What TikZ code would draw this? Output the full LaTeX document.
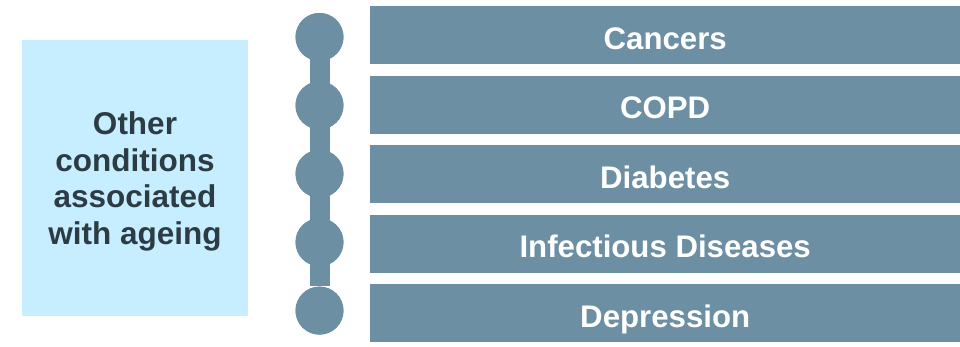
\documentclass[tikz,border=0pt]{standalone}
\usepackage{fontspec}
\setmainfont{Liberation Sans}
\definecolor{barblue}{HTML}{6C8FA3}
\definecolor{lightblue}{HTML}{C6EEFF}
\definecolor{darktext}{HTML}{2D3B45}
\tikzset{
  itembox/.style={rectangle, fill=barblue, draw=none, minimum width=590pt, minimum height=58pt, inner sep=0pt, text=white, font=\bfseries\fontsize{31.2}{36}\selectfont, text height=28.5pt, text depth=0pt, anchor=west},
  dot/.style={circle, fill=barblue, draw=none, minimum size=48pt, inner sep=0pt},
  sidebox/.style={rectangle, fill=lightblue, draw=none, minimum width=226pt, minimum height=276pt, inner sep=0pt, text=darktext, align=center, text depth=0pt, font=\bfseries\fontsize{31.5}{36.7}\selectfont}
}
\begin{document}
\begin{tikzpicture}[x=1pt,y=-1pt]
\useasboundingbox (0,0) rectangle (960,346);
\node[sidebox] (side) at (135,178) {Other\\conditions\\associated\\with ageing};
\foreach \i/\t in {0/Cancers,1/COPD,2/Diabetes,3/Infectious Diseases,4/Depression}{
  \node[itembox] (r\i) at (370,{35+69.5*\i}) {\t};
  \node[dot] (c\i) at (319.5,{37+68.4*\i}) {};
}
\draw[barblue, line width=20pt] (c0.center) -- (c4.north);
\foreach \i in {0,...,4}{ \fill[barblue] (c\i) circle (24pt); }
\end{tikzpicture}
\end{document}
